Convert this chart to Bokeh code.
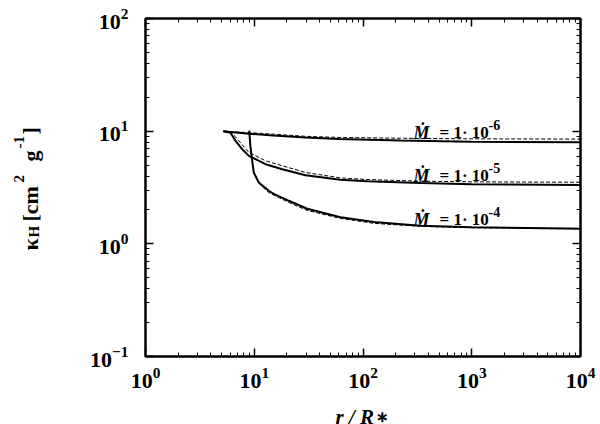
import math
from bokeh.plotting import figure
from bokeh.layouts import row, column
from bokeh.models import LogAxis, LogTicker, LogTickFormatter, Label, Range1d
from bokeh.embed import file_html
from bokeh.resources import INLINE

# ---- data ----
r_m6 = [5.2, 6.0, 9.0, 15.0, 29.6, 60.0, 221.0, 1000.0, 10000.0]
k_m6_solid = [10.0, 9.85, 9.5, 9.15, 8.8, 8.5, 8.26, 8.06, 7.98]
k_m6_dash = [10.0, 9.9, 9.7, 9.4, 9.0, 8.8, 8.65, 8.55, 8.5]

r_m5 = [5.2, 6.05, 6.73, 7.75, 8.91, 12.7, 18.1, 29.6, 62.0, 109.0, 338.0, 1000.0, 10000.0]
k_m5_solid = [10.0, 9.7, 8.2, 6.92, 6.04, 5.09, 4.59, 4.06, 3.7, 3.6, 3.46, 3.38, 3.32]
k_m5_dash = [10.0, 9.8, 8.9, 7.6, 6.47, 5.46, 4.93, 4.3, 3.85, 3.72, 3.6, 3.55, 3.52]

r_m4 = [9.0, 9.2, 9.44, 9.9, 11.0, 13.6, 15.1, 20.8, 30.7, 62.1, 126.0, 338.0, 1000.0, 10000.0]
k_m4_solid = [10.1, 7.5, 6.04, 4.3, 3.5, 2.96, 2.78, 2.41, 2.05, 1.72, 1.56, 1.45, 1.40, 1.36]
r_m4_dash = [10.3, 11.5, 13.6, 20.8, 30.7, 62.1, 126.0, 338.0, 1000.0, 10000.0]
k_m4_dash = [3.9, 3.3, 2.85, 2.33, 1.98, 1.68, 1.52, 1.43, 1.39, 1.37]

mdot_exponents = ["-6", "-5", "-4"]

FONT = "Liberation Serif"

# ---- layout (page pixels) ----
PAGE_W, PAGE_H = 600, 424
YT_W = 80            # strip holding the rotated y title
MAIN_H = 395         # main plot height; strip below holds the x title
FL, FR, FT, FB = 145, 580, 18, 356   # plot frame in page pixels
X0, X1 = 1.0, 1e4
Y0, Y1 = 0.1, 100.0

p = figure(width=PAGE_W - YT_W, height=MAIN_H, x_axis_type="log", y_axis_type="log",
           x_range=Range1d(X0, X1), y_range=Range1d(Y0, Y1),
           output_backend="svg", toolbar_location=None,
           min_border_left=FL - YT_W, min_border_right=PAGE_W - FR,
           min_border_top=FT, min_border_bottom=MAIN_H - FB)
p.xgrid.visible = False
p.ygrid.visible = False
p.outline_line_color = "black"
p.outline_line_width = 2


def style_axis(ax, show_labels=True):
    ax.ticker = LogTicker(num_minor_ticks=10)
    ax.axis_line_color = "black"
    ax.axis_line_width = 2
    ax.major_tick_in = 8
    ax.major_tick_out = 0
    ax.minor_tick_in = 4
    ax.minor_tick_out = 0
    ax.major_tick_line_color = "black"
    ax.minor_tick_line_color = "black"
    ax.major_tick_line_width = 1.5
    ax.minor_tick_line_width = 1
    ax.major_label_text_font = FONT
    ax.major_label_text_font_style = "bold"
    ax.major_label_text_color = "black"
    if show_labels:
        ax.major_label_text_font_size = "22px"
    else:
        ax.major_label_text_font_size = "0px"
        ax.major_label_standoff = 0
        ax.major_label_text_alpha = 0


for ax in p.xaxis:
    style_axis(ax)
    ax.major_label_standoff = 11
    ax.formatter = LogTickFormatter()
for ax in p.yaxis:
    style_axis(ax)
    ax.major_label_standoff = 17
    ax.formatter = LogTickFormatter()

top_ax = LogAxis()
style_axis(top_ax, show_labels=False)
p.add_layout(top_ax, "above")
right_ax = LogAxis()
style_axis(right_ax, show_labels=False)
p.add_layout(right_ax, "right")

# ---- curves ----
p.line(r_m6, k_m6_dash, line_color="black", line_width=1, line_dash="4 2")
p.line(r_m5, k_m5_dash, line_color="black", line_width=1, line_dash="4 2")
p.line(r_m4_dash, k_m4_dash, line_color="black", line_width=1, line_dash="4 2")
p.line(r_m6, k_m6_solid, line_color="black", line_width=2)
p.line(r_m5, k_m5_solid, line_color="black", line_width=2)
p.line(r_m4, k_m4_solid, line_color="black", line_width=2)


# page pixel -> data coordinates of the main plot (annotation placement)
def dx(px):
    return 10 ** (math.log10(X0) + (px - FL) / (FR - FL) * (math.log10(X1) - math.log10(X0)))


def dy(py):
    return 10 ** (math.log10(Y0) + (FB - py) / (FB - FT) * (math.log10(Y1) - math.log10(Y0)))


def lab(fig, x, y, text, size, style="bold", angle=0.0):
    fig.add_layout(Label(x=x, y=y, text=text, angle=angle,
                         text_font=FONT, text_font_size=f"{size}px",
                         text_font_style=style, text_color="black",
                         text_align="left", text_baseline="alphabetic"))


# Mdot labels
for exp_txt, base_y in zip(mdot_exponents, [132, 175, 219]):
    lab(p, dx(413), dy(base_y), "\u1E40", 18, "bold italic")
    lab(p, dx(439), dy(base_y), "= 1\u00B7 10", 17, "bold")
    lab(p, dx(488), dy(base_y - 8), exp_txt, 14, "bold")


def strip(w, h, xr, yr):
    f = figure(width=w, height=h, x_range=xr, y_range=yr,
               output_backend="svg", toolbar_location=None,
               x_axis_location=None, y_axis_location=None,
               min_border=0, min_border_left=0, min_border_right=0,
               min_border_top=0, min_border_bottom=0)
    f.xgrid.visible = False
    f.ygrid.visible = False
    f.outline_line_color = None
    return f


# y title strip: kappa_H [cm^2 g^-1], rotated (data = page px, y measured up)
yt = strip(YT_W, PAGE_H, Range1d(0, YT_W), Range1d(0, PAGE_H))
A = math.pi / 2
for px, py, txt, sz in [(30, 250, "\u03BA", 22), (33, 237, "H", 15),
                        (30, 221, "[cm", 22), (18, 182, "2", 15),
                        (30, 161, "g", 22), (18, 148, "-1", 15),
                        (30, 134, "]", 22)]:
    lab(yt, px, PAGE_H - py, txt, sz, "bold", A)

# x title strip: its frame is aligned with the main frame (page x FL..FR)
XT_H = PAGE_H - MAIN_H
xt = strip(PAGE_W - YT_W, XT_H, Range1d(FL, FR), Range1d(0, XT_H))
lab(xt, 335, PAGE_H - 416, "r / R", 21, "bold italic")
lab(xt, 375, PAGE_H - 416, "\u2217", 15, "bold")

layout = row(yt, column(p, xt, spacing=0), spacing=0)

open("out.html", "w").write(file_html(layout, INLINE))
